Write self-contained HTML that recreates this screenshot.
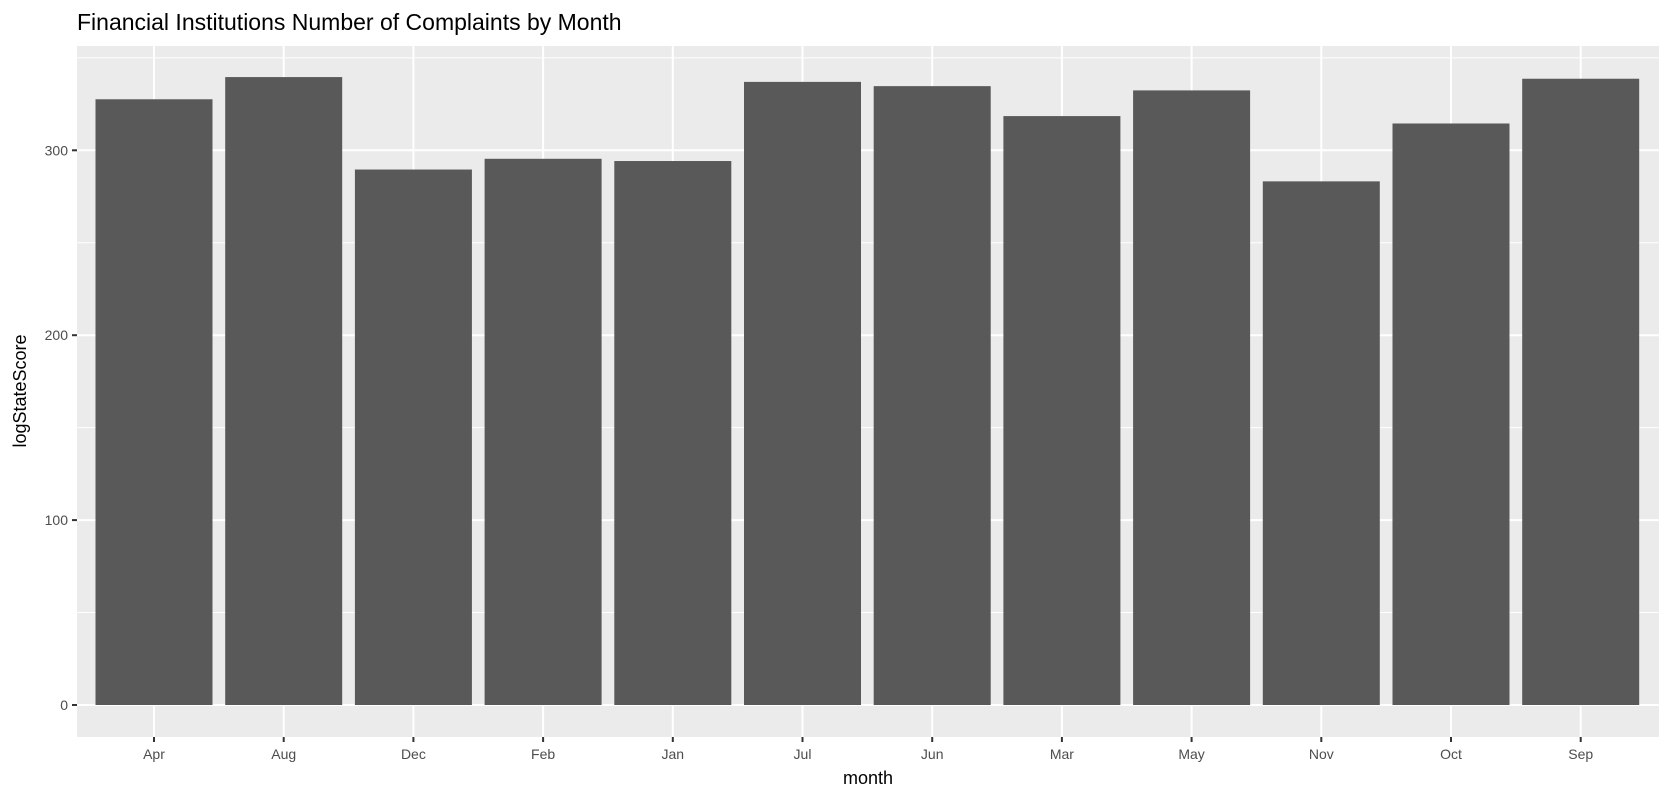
<!DOCTYPE html>
<html><head><meta charset="utf-8"><style>
body{margin:0;background:#fff;width:1670px;height:800px;overflow:hidden;font-family:"Liberation Sans",Arial,sans-serif}
</style></head><body>
<svg id="chart" width="1670" height="800">
<text x="77" y="30" font-size="23" fill="#000">Financial Institutions Number of Complaints by Month</text>
<rect x="77" y="46" width="1582" height="691" fill="#ebebeb"/>
<g id="grid"></g><g id="bars"></g><g id="axes"></g>
<text x="868" y="784" font-size="18" text-anchor="middle" fill="#000">month</text>
<text transform="translate(26,391) rotate(-90)" font-size="18" text-anchor="middle" fill="#000">logStateScore</text>
</svg>
<script>
const categories=["Apr","Aug","Dec","Feb","Jan","Jul","Jun","Mar","May","Nov","Oct","Sep"];
const values=[327.6,339.6,289.6,295.4,294.2,337,334.7,318.5,332.4,283.2,314.5,338.7];
const yTicks=[0,100,200,300];
const yMinor=[50,150,250,350];
const ns="http://www.w3.org/2000/svg";
const y0=705,pxPer=1.849,x0=154,step=129.7,bw=117;
const ys=v=>y0-v*pxPer, xs=i=>x0+i*step;
function mk(t,a,p){const e=document.createElementNS(ns,t);for(const k in a)e.setAttribute(k,a[k]);p.appendChild(e);return e;}
const G=document.getElementById('grid'),B=document.getElementById('bars'),A=document.getElementById('axes');
yMinor.forEach(v=>{const l=mk('line',{x1:77,x2:1659,y1:ys(v),y2:ys(v),stroke:'#fff','stroke-width':1},G);

});
yTicks.forEach(v=>{const l=mk('line',{x1:77,x2:1659,y1:ys(v),y2:ys(v),stroke:'#fff','stroke-width':2},G);


const t=mk('line',{x1:72,x2:77,y1:ys(v),y2:ys(v),stroke:'#333','stroke-width':2},A);


const tx=mk('text',{x:68,y:ys(v)+5,'font-size':14,'text-anchor':'end',fill:'#4d4d4d'},A);tx.textContent=v;

});
categories.forEach((c,i)=>{const x=xs(i);
const g=mk('line',{x1:x,x2:x,y1:46,y2:737,stroke:'#fff','stroke-width':2},G);


const r=mk('rect',{x:x-bw/2,y:ys(values[i]),width:bw,height:values[i]*pxPer,fill:'#595959'},B);


const t=mk('line',{x1:x,x2:x,y1:737,y2:742,stroke:'#333','stroke-width':2},A);


const tx=mk('text',{x:x,y:759,'font-size':14,'text-anchor':'middle',fill:'#4d4d4d'},A);tx.textContent=c;

});
</script>
</body></html>
